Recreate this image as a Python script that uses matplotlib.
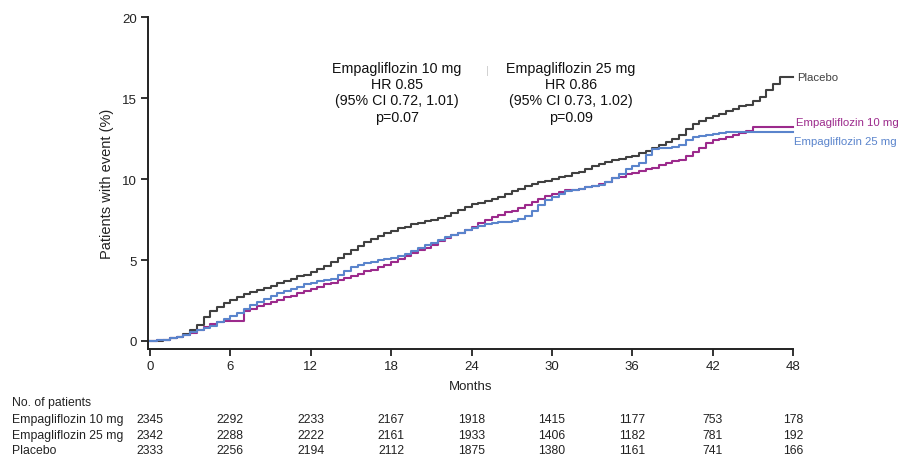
import matplotlib
matplotlib.use("Agg")
import matplotlib.pyplot as plt
import numpy as np

plt.rcParams['font.family'] = ['Liberation Sans', 'DejaVu Sans']

months = np.arange(0, 48.5, 0.5)

placebo = [0, 0.02, 0.08, 0.15, 0.25, 0.4, 0.65, 1.0, 1.5, 1.85, 2.1, 2.35, 2.5, 2.7, 2.9, 3.05,
           3.15, 3.3, 3.4, 3.55, 3.7, 3.85, 4.0, 4.1, 4.25, 4.45, 4.65, 4.85, 5.1, 5.35, 5.6, 5.85,
           6.1, 6.3, 6.5, 6.65, 6.8, 6.95, 7.05, 7.2, 7.3, 7.4, 7.5, 7.6, 7.75, 7.9, 8.1, 8.3,
           8.45, 8.55, 8.65, 8.75, 8.9, 9.05, 9.25, 9.4, 9.55, 9.7, 9.8, 9.9, 10.0, 10.1, 10.2, 10.35,
           10.45, 10.6, 10.8, 10.95, 11.05, 11.15, 11.25, 11.35, 11.45, 11.6, 11.75, 11.9, 12.1, 12.3,
           12.5, 12.75, 13.1, 13.4, 13.6, 13.75, 13.9, 14.05, 14.2, 14.35, 14.5, 14.6, 14.85, 15.1,
           15.5, 15.9, 16.3, 16.3, 16.3]

empa25 = [0, 0.03, 0.08, 0.15, 0.25, 0.38, 0.52, 0.65, 0.8, 0.95, 1.15, 1.35, 1.55, 1.75, 1.95, 2.2,
          2.4, 2.6, 2.8, 2.95, 3.1, 3.2, 3.35, 3.5, 3.6, 3.7, 3.75, 3.85, 4.1, 4.35, 4.55, 4.7,
          4.8, 4.9, 5.0, 5.05, 5.1, 5.25, 5.4, 5.55, 5.75, 5.9, 6.05, 6.25, 6.4, 6.55, 6.7, 6.85,
          7.0, 7.1, 7.2, 7.3, 7.35, 7.35, 7.4, 7.55, 7.75, 8.05, 8.4, 8.7, 8.9, 9.1, 9.25, 9.35,
          9.4, 9.5, 9.55, 9.65, 9.85, 10.05, 10.3, 10.6, 10.8, 11.0, 11.5, 11.85, 11.9, 11.95,
          12.0, 12.1, 12.4, 12.6, 12.65, 12.7, 12.8, 12.85, 12.9, 12.9, 12.9, 12.9, 12.9, 12.9,
          12.9, 12.9, 12.9, 12.9, 12.9]

empa10 = [0, 0.03, 0.08, 0.15, 0.25, 0.38, 0.5, 0.65, 0.85, 1.05, 1.15, 1.2, 1.2, 1.2, 1.85, 2.0,
          2.15, 2.3, 2.4, 2.55, 2.7, 2.8, 2.95, 3.1, 3.2, 3.35, 3.5, 3.6, 3.75, 3.9, 4.0, 4.15,
          4.3, 4.4, 4.55, 4.7, 4.85, 5.05, 5.25, 5.45, 5.6, 5.75, 5.95, 6.2, 6.35, 6.55, 6.7, 6.85,
          7.05, 7.3, 7.5, 7.65, 7.8, 7.95, 8.05, 8.2, 8.4, 8.6, 8.8, 8.95, 9.1, 9.2, 9.3, 9.35,
          9.4, 9.5, 9.6, 9.7, 9.85, 10.05, 10.15, 10.3, 10.4, 10.5, 10.6, 10.7, 10.85, 11.0,
          11.1, 11.2, 11.45, 11.7, 11.95, 12.25, 12.4, 12.5, 12.6, 12.7, 12.85, 12.95, 13.2, 13.2,
          13.2, 13.2, 13.2, 13.2, 13.2]

x_ticks = [0, 6, 12, 18, 24, 30, 36, 42, 48]
y_ticks = [0, 5, 10, 15, 20]

table_groups = ["Empagliflozin 10 mg", "Empagliflozin 25 mg", "Placebo"]
at_risk_10 = [2345, 2292, 2233, 2167, 1918, 1415, 1177, 753, 178]
at_risk_25 = [2342, 2288, 2222, 2161, 1933, 1406, 1182, 781, 192]
at_risk_pl = [2333, 2256, 2194, 2112, 1875, 1380, 1161, 741, 166]

c_pl = "#404040"
c_10 = "#9c2a8c"
c_25 = "#5a84cc"

fig = plt.figure(figsize=(9.01, 4.56), dpi=100)
ax = fig.add_axes([148/901, 1-350/456, (793-148)/901, (350-18.3)/456])

ax.plot(months, placebo, drawstyle="steps-post", color=c_pl, lw=1.5, clip_on=False)
ax.plot(months, empa10, drawstyle="steps-post", color=c_10, lw=1.5, clip_on=False)
ax.plot(months, empa25, drawstyle="steps-post", color=c_25, lw=1.5, clip_on=False)

ax.set_xlim(-0.15, 48)
ax.set_ylim(-0.5, 20)
ax.set_xticks(x_ticks)
ax.set_yticks(y_ticks)
ax.tick_params(axis='both', direction='out', length=5, width=1.3, colors='#222222',
               labelsize=9.5, labelcolor='#222222')
ax.tick_params(axis='x', pad=3)
ax.tick_params(axis='y', pad=3)
for s in ['top', 'right']:
    ax.spines[s].set_visible(False)
for s in ['left', 'bottom']:
    ax.spines[s].set_linewidth(1.4)
    ax.spines[s].set_color('#222222')

ax.set_xlabel("Months", fontsize=9.5, color='#222222', labelpad=6)
ax.set_ylabel("Patients with event (%)", fontsize=10.5, color='#222222', labelpad=6)

# annotations
ann_kw = dict(ha='center', va='top', fontsize=10.3, color='#111111', linespacing=1.2)
ax.text(18.45, 17.3, "Empagliflozin 10 mg\nHR 0.85\n(95% CI 0.72, 1.01)\np=0.07", **ann_kw)
ax.text(31.4, 17.3, "Empagliflozin 25 mg\nHR 0.86\n(95% CI 0.73, 1.02)\np=0.09", **ann_kw)
ax.text(25.2, 16.75, "|", ha='center', va='center', fontsize=8, color='#cccccc')

# line end labels
ax.text(48.3, placebo[-1], "Placebo", color=c_pl, fontsize=8.2, va='center', ha='left', clip_on=False)
ax.text(48.2, empa10[-1] + 0.3, "Empagliflozin 10 mg", color=c_10, fontsize=8.2, va='center', ha='left', clip_on=False)
ax.text(48.1, empa25[-1] - 0.55, "Empagliflozin 25 mg", color=c_25, fontsize=8.2, va='center', ha='left', clip_on=False)

# number at risk table
tr = ax.get_xaxis_transform()
fig.text(12/901, 1-403/456, "No. of patients", fontsize=8.8, color='#222222', va='center', ha='left')
rows_y = [420, 436, 451]
for name, vals, yp in zip(table_groups, [at_risk_10, at_risk_25, at_risk_pl], rows_y):
    fig.text(12/901, 1-yp/456, name, fontsize=8.8, color='#222222', va='center', ha='left')
    for xv, v in zip(x_ticks, vals):
        ax.text(xv, -(yp-350)/(350-18.3), str(v), transform=tr, fontsize=8.8, color='#222222',
                ha='center', va='center', clip_on=False)

fig.savefig("out.png", dpi=100)
